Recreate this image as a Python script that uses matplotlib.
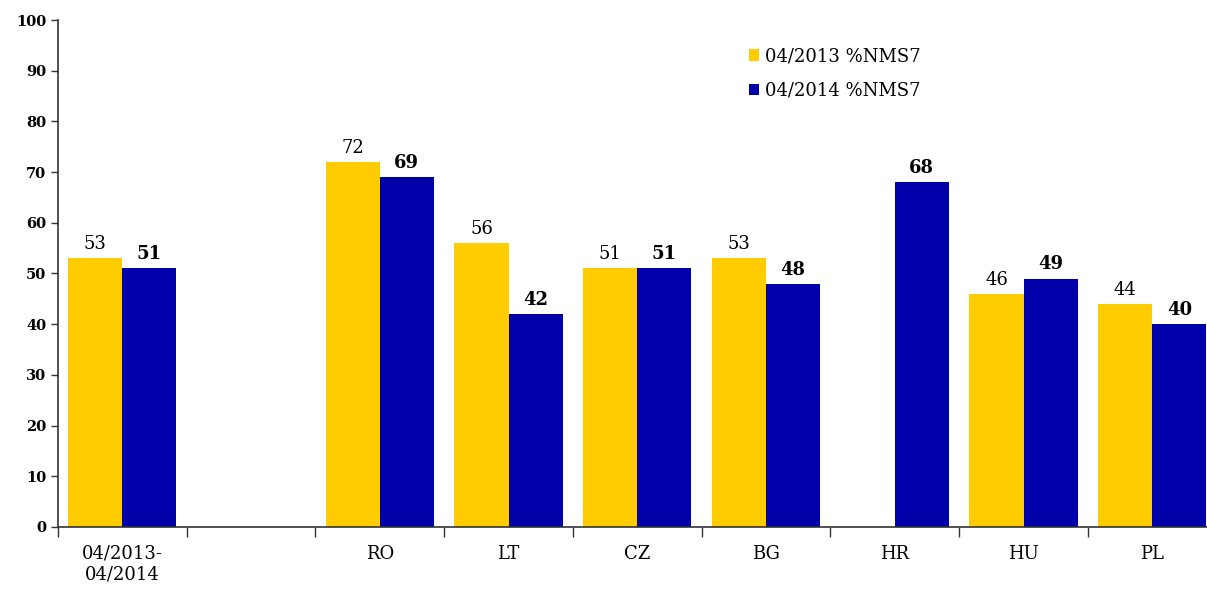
import numpy as np
import matplotlib
matplotlib.use('Agg')
import matplotlib.pyplot as plt

plt.rcParams['font.family'] = ['DejaVu Serif']

cats = ['04/2013-\n04/2014', '', 'RO', 'LT', 'CZ', 'BG', 'HR', 'HU', 'PL']
v2013 = [53, np.nan, 72, 56, 51, 53, np.nan, 46, 44]
v2014 = [51, np.nan, 69, 42, 51, 48, 68, 49, 40]
lab2013 = '04/2013 %NMS7'
lab2014 = '04/2014 %NMS7'

yellow = '#FFCC00'
blue = '#0000AA'

fig = plt.figure(figsize=(12.07, 5.9), dpi=100)
# axes runs a little past the right edge, as in the original (PL bar is cut)
ax = fig.add_axes([0.048, 0.107, 0.960, 0.859])

x = np.arange(len(cats))
w = 0.42
b1 = ax.bar(x - w/2, v2013, w, color=yellow, label=lab2013)
b2 = ax.bar(x + w/2, v2014, w, color=blue, label=lab2014)

for xi, v in zip(x, v2013):
    if not np.isnan(v):
        ax.text(xi - w/2, v + 1.0, f'{v:.0f}', ha='center', va='bottom', fontsize=13)
for xi, v in zip(x, v2014):
    if not np.isnan(v):
        ax.text(xi + w/2, v + 1.0, f'{v:.0f}', ha='center', va='bottom', fontsize=13, fontweight='bold')

ax.set_xlim(-0.5, len(cats) - 0.5)
ax.set_ylim(0, 100)
ax.set_yticks(range(0, 101, 10))
ax.tick_params(axis='y', labelsize=10.5, length=5, width=1, color='#333333')
for t in ax.get_yticklabels():
    t.set_fontweight('bold')

# category labels centred, tick marks on the boundaries
ax.set_xticks(x)
ax.set_xticklabels(cats, fontsize=13)
ax.tick_params(axis='x', length=0, pad=13)
ax.set_xticks(np.arange(len(cats)) - 0.5, minor=True)
ax.tick_params(axis='x', which='minor', length=7, width=1, color='#333333')

for s in ['top', 'right']:
    ax.spines[s].set_visible(False)
for s in ['left', 'bottom']:
    ax.spines[s].set_color('#333333')
    ax.spines[s].set_linewidth(1.2)

ax.legend(loc='upper left', bbox_to_anchor=(0.582, 0.978), frameon=False, fontsize=13,
          handlelength=0.6, handleheight=0.6, handletextpad=0.3, labelspacing=0.9)

fig.savefig('out.png', dpi=100)
